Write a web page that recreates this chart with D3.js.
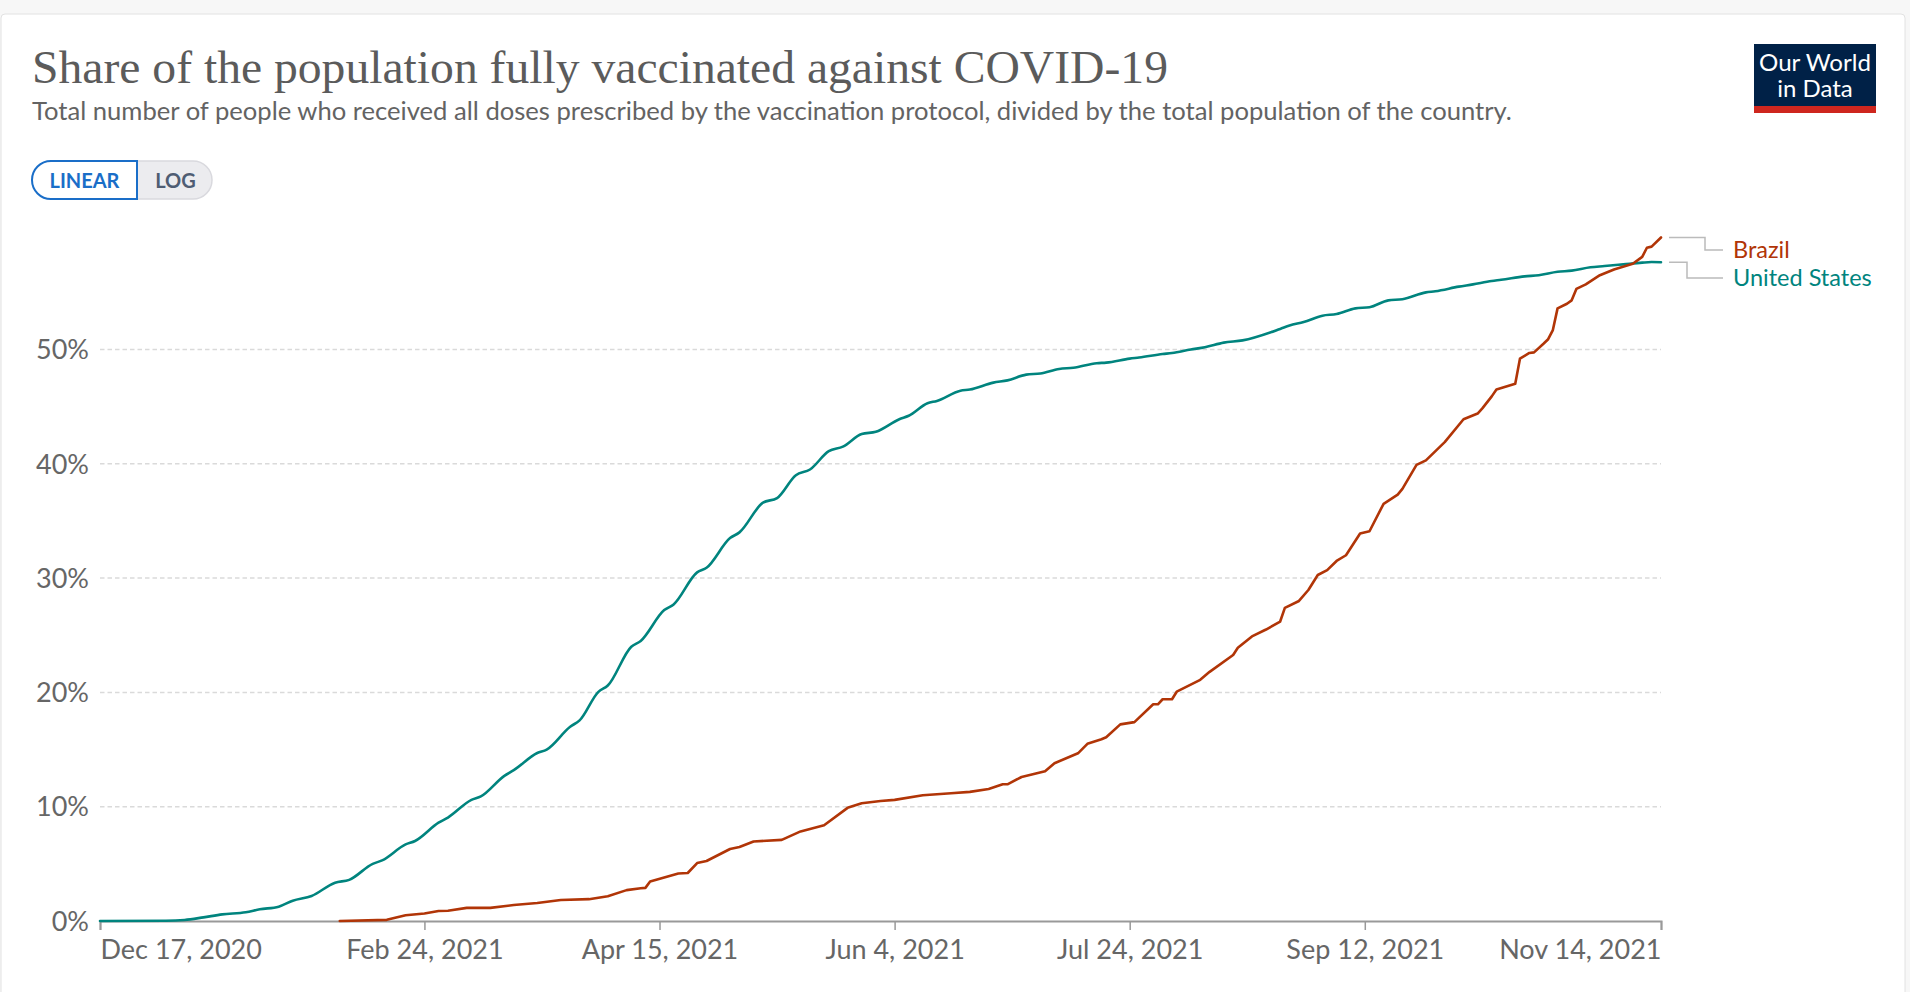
<!DOCTYPE html>
<html>
<head>
<meta charset="utf-8">
<script src="https://cdn.jsdelivr.net/npm/d3@7"></script>
<style>
  html, body { margin: 0; padding: 0; background: #f7f7f7; }
  svg { display: block; }
  text { font-family: Lato, "Noto Sans", sans-serif; }
</style>
</head>
<body>
<svg id="chart" width="1910" height="992"></svg>
<script>
// ---- DATA ----
const titleText = "Share of the population fully vaccinated against COVID-19";
const subtitleText = "Total number of people who received all doses prescribed by the vaccination protocol, divided by the total population of the country.";
const seriesNames = ["Brazil", "United States"];

const xTickDates = ["2020-12-17", "2021-02-24", "2021-04-15", "2021-06-04", "2021-07-24", "2021-09-12", "2021-11-14"];
const yTickValues = [0, 10, 20, 30, 40, 50];

const usDates = ["2020-12-17","2020-12-31","2021-01-04","2021-01-08","2021-01-12","2021-01-17","2021-01-20","2021-01-24","2021-01-27","2021-01-31",
  "2021-02-05","2021-02-08","2021-02-13","2021-02-15","2021-02-20","2021-02-22","2021-02-27","2021-03-01","2021-03-06","2021-03-08",
  "2021-03-13","2021-03-15","2021-03-20","2021-03-22","2021-03-27","2021-03-29","2021-04-02","2021-04-04","2021-04-09","2021-04-11",
  "2021-04-16","2021-04-18","2021-04-23","2021-04-25","2021-04-30","2021-05-02","2021-05-07","2021-05-10","2021-05-14","2021-05-17",
  "2021-05-21","2021-05-24","2021-05-28","2021-05-31","2021-06-05","2021-06-07","2021-06-11","2021-06-13","2021-06-18","2021-06-20",
  "2021-06-25","2021-06-28","2021-07-02","2021-07-05","2021-07-09","2021-07-12","2021-07-17","2021-07-19","2021-07-24","2021-07-26",
  "2021-07-31","2021-08-02","2021-08-06","2021-08-09","2021-08-13","2021-08-17","2021-08-25","2021-08-27","2021-08-30","2021-09-03",
  "2021-09-06","2021-09-10","2021-09-13","2021-09-17","2021-09-20","2021-09-25","2021-09-27","2021-10-02","2021-10-05","2021-10-09",
  "2021-10-11","2021-10-16","2021-10-19","2021-10-23","2021-10-26","2021-10-30","2021-11-02","2021-11-06","2021-11-10","2021-11-12","2021-11-14"];
const usValues = [0,0.02,0.09,0.32,0.58,0.76,1.02,1.25,1.78,2.19,
  3.35,3.6,5.0,5.3,6.7,7.0,8.6,9.05,10.6,10.9,
  12.7,13.2,14.7,15.0,17.0,17.55,20.05,20.6,24.0,24.5,
  27.2,27.7,30.5,30.9,33.5,34.0,36.6,37.0,39.0,39.5,
  41.1,41.5,42.6,42.8,43.9,44.2,45.3,45.5,46.4,46.5,
  47.1,47.3,47.8,47.9,48.3,48.4,48.8,48.85,49.2,49.3,
  49.6,49.7,50.0,50.2,50.6,50.8,51.8,52.1,52.4,52.96,
  53.1,53.6,53.7,54.3,54.4,55.0,55.1,55.5,55.7,56.0,
  56.1,56.4,56.5,56.8,56.9,57.2,57.3,57.45,57.6,57.65,57.63];

const brDates = ["2021-02-06","2021-02-16","2021-02-20","2021-02-24","2021-02-27","2021-03-01","2021-03-05","2021-03-10","2021-03-15","2021-03-20",
  "2021-03-25","2021-03-31","2021-04-04","2021-04-08","2021-04-11","2021-04-12","2021-04-13","2021-04-19","2021-04-21","2021-04-23",
  "2021-04-25","2021-04-30","2021-05-02","2021-05-05","2021-05-11","2021-05-15","2021-05-20","2021-05-25","2021-05-28","2021-06-01",
  "2021-06-04","2021-06-10","2021-06-16","2021-06-20","2021-06-24","2021-06-27","2021-06-28","2021-07-01","2021-07-06","2021-07-08",
  "2021-07-13","2021-07-15","2021-07-18","2021-07-19","2021-07-22","2021-07-25","2021-07-29","2021-07-30","2021-07-31","2021-08-02",
  "2021-08-03","2021-08-08","2021-08-10","2021-08-15","2021-08-16","2021-08-19","2021-08-22","2021-08-25","2021-08-26","2021-08-29",
  "2021-08-31","2021-09-02","2021-09-04","2021-09-06","2021-09-08","2021-09-11","2021-09-13","2021-09-16","2021-09-19","2021-09-20",
  "2021-09-23","2021-09-25","2021-09-29","2021-10-03","2021-10-06","2021-10-07","2021-10-09","2021-10-10","2021-10-14","2021-10-15",
  "2021-10-17","2021-10-18","2021-10-20","2021-10-21","2021-10-22","2021-10-23","2021-10-25","2021-10-26","2021-10-27","2021-10-29",
  "2021-11-01","2021-11-04","2021-11-08","2021-11-10","2021-11-11","2021-11-12","2021-11-14"];
const brValues = [0,0.1,0.5,0.65,0.87,0.9,1.15,1.15,1.4,1.58,
  1.84,1.91,2.16,2.7,2.86,2.9,3.45,4.15,4.2,5.07,
  5.25,6.3,6.47,6.95,7.1,7.84,8.37,9.9,10.3,10.5,
  10.6,11.0,11.17,11.3,11.55,11.96,11.96,12.6,13.1,13.8,
  14.67,15.5,15.9,16.07,17.2,17.4,18.96,18.96,19.4,19.4,
  20.06,21.1,21.8,23.27,23.9,24.9,25.5,26.2,27.4,28.0,
  28.96,30.27,30.7,31.5,32.0,33.9,34.1,36.5,37.3,37.8,
  39.9,40.3,41.9,43.9,44.4,44.85,45.9,46.5,47.0,49.2,
  49.7,49.75,50.5,50.9,51.7,53.6,54.0,54.3,55.3,55.7,
  56.5,57.0,57.5,58.1,58.9,59.0,59.8];

// ---- STYLE ----
const colors = {"Brazil": "#b13507", "United States": "#00847e"};
const parse = d3.timeParse("%Y-%m-%d");
const fmt = d3.timeFormat("%b %-d, %Y");

const svg = d3.select("#chart");

// page / card
svg.append("rect").attr("x", 0).attr("y", 0).attr("width", 1910).attr("height", 992).attr("fill", "#f7f7f7");
svg.append("rect").attr("x", 1).attr("y", 14).attr("width", 1904).attr("height", 1000)
  .attr("rx", 4).attr("fill", "#fff").attr("stroke", "#e2e2e2").attr("stroke-width", 1);

// title
svg.append("text").text(titleText)
  .attr("x", 32).attr("y", 83)
  .style("font-family", "'Liberation Serif', 'DejaVu Serif', serif")
  .style("font-size", "46px").attr("fill", "#5b5b5b")
  .attr("textLength", 1136).attr("lengthAdjust", "spacingAndGlyphs");

// subtitle
const sub = svg.append("text").text(subtitleText)
  .attr("x", 32).attr("y", 120)
  .style("font-size", "21.5px").attr("fill", "#636363");
(function(){ const w = sub.node().getComputedTextLength(); const s = 21.5 * 1481 / w; sub.style("font-size", s + "px"); })();

// LINEAR / LOG toggle
const tg = svg.append("g");
tg.append("path").attr("d", "M137,161 H193 A19,19 0 0 1 193,199 H137 Z").attr("fill", "#ececef").attr("stroke", "#d9d9de").attr("stroke-width", 1.5);
tg.append("path").attr("d", "M137,161 H51 A19,19 0 0 0 51,199 H137 Z").attr("fill", "#fff").attr("stroke", "#1a6ec8").attr("stroke-width", 2);
tg.append("text").text("LINEAR").attr("x", 84.5).attr("y", 187.5).attr("text-anchor", "middle")
  .style("font-size", "20px").style("font-weight", "bold").attr("fill", "#1a6ec8");
tg.append("text").text("LOG").attr("x", 175.5).attr("y", 187.5).attr("text-anchor", "middle")
  .style("font-size", "20px").style("font-weight", "bold").attr("fill", "#4f5d73");

// logo
const lg = svg.append("g");
lg.append("rect").attr("x", 1754).attr("y", 44).attr("width", 122).attr("height", 63).attr("fill", "#002147");
lg.append("rect").attr("x", 1754).attr("y", 106).attr("width", 122).attr("height", 7).attr("fill", "#ce261e");
lg.append("text").text("Our World").attr("x", 1815).attr("y", 71).attr("text-anchor", "middle")
  .style("font-size", "24px").attr("fill", "#fff").attr("textLength", 112).attr("lengthAdjust", "spacingAndGlyphs");
lg.append("text").text("in Data").attr("x", 1815).attr("y", 97).attr("text-anchor", "middle")
  .style("font-size", "24px").attr("fill", "#fff");

// scales
const x = d3.scaleTime().domain([parse(xTickDates[0]), parse(xTickDates[xTickDates.length - 1])]).range([100, 1661]);
const y = d3.scaleLinear().domain([0, 50]).range([921, 349.5]);

// grid
svg.append("g").selectAll("line").data(yTickValues.filter(v => v > 0)).join("line")
  .attr("x1", 100).attr("x2", 1661).attr("y1", d => y(d)).attr("y2", d => y(d))
  .attr("stroke", "#dadada").attr("stroke-width", 1.5).attr("stroke-dasharray", "4.5,3");

// y labels
svg.append("g").selectAll("text").data(yTickValues).join("text")
  .text(d => d + "%").attr("x", 89).attr("y", d => y(d)).attr("dy", "0.36em")
  .attr("text-anchor", "end").style("font-size", "27px").attr("fill", "#666");

// x axis
const xAxis = d3.axisBottom(x).tickValues(xTickDates.map(parse)).tickFormat(fmt).tickSize(9).tickPadding(10);
const xg = svg.append("g").attr("transform", "translate(0,921)").call(xAxis);
xg.select(".domain").attr("stroke", "#999").attr("stroke-width", 2);
xg.selectAll(".tick line").attr("stroke", "#999").attr("stroke-width", 1.5);
xg.selectAll(".tick text").style("font-size", "27px").style("font-family", "Lato, sans-serif").attr("fill", "#666");
xg.selectAll(".tick text").filter((d, i) => i === 0).attr("text-anchor", "start");
xg.selectAll(".tick text").filter((d, i) => i === xTickDates.length - 1).attr("text-anchor", "end");

// lines
const series = [
  {name: "United States", data: usDates.map((d, i) => ({date: parse(d), v: usValues[i]})), curve: d3.curveMonotoneX},
  {name: "Brazil", data: brDates.map((d, i) => ({date: parse(d), v: brValues[i]})), curve: d3.curveLinear}
];
series.forEach(s => {
  svg.append("path").datum(s.data)
    .attr("d", d3.line().x(d => x(d.date)).y(d => y(d.v)).curve(s.curve))
    .attr("fill", "none").attr("stroke", colors[s.name]).attr("stroke-width", 2.6)
    .attr("stroke-linejoin", "round").attr("stroke-linecap", "round");
});

// end labels with connectors
const ends = seriesNames.map(n => {
  const s = series.find(q => q.name === n);
  const last = s.data[s.data.length - 1];
  return {name: n, ey: y(last.v), ex: x(last.date)};
}).sort((a, b) => a.ey - b.ey);
let prev = -Infinity;
ends.forEach((e, i) => {
  let ly = (i === 0) ? e.ey + 12.5 : Math.max(e.ey + 15.5, prev + 28);
  e.ly = ly; prev = ly;
});
const lab = svg.append("g");
ends.forEach((e, i) => {
  const bend = i === 0 ? 1705 : 1687;
  lab.append("path")
    .attr("d", `M1669,${e.ey} H${bend} V${e.ly} H1723`)
    .attr("fill", "none").attr("stroke", "#bbb").attr("stroke-width", 1.5);
  lab.append("text").text(e.name).attr("x", 1733).attr("y", e.ly).attr("dy", "0.33em")
    .style("font-size", "23.5px").attr("fill", colors[e.name]);
});
</script>
</body>
</html>
